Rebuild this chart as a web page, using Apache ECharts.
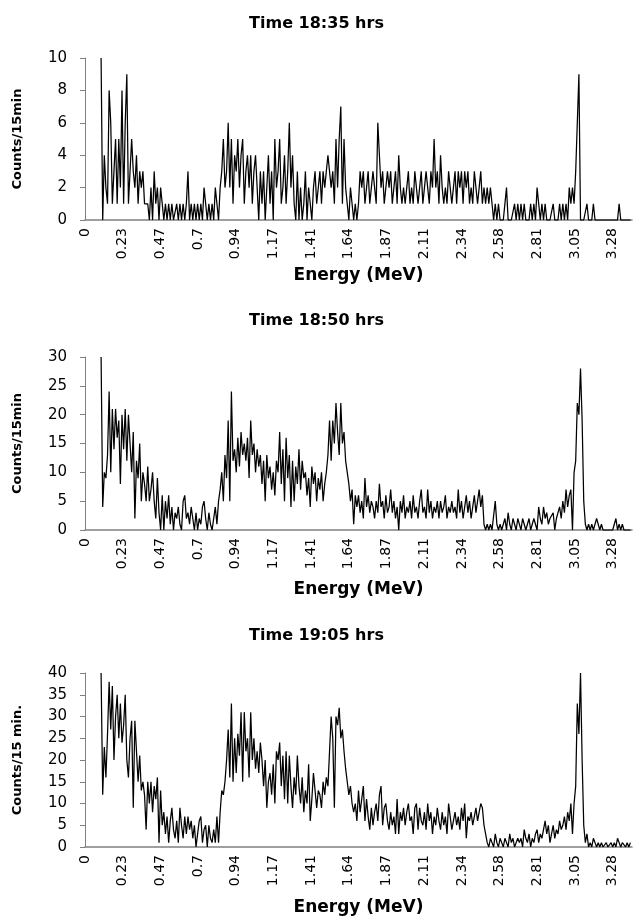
<!DOCTYPE html>
<html>
<head>
<meta charset="utf-8">
<script src="https://cdn.jsdelivr.net/npm/echarts@6/dist/echarts.min.js"></script>
<style>html,body{margin:0;padding:0;background:#fff}#c{width:633px;height:921px}</style>
</head>
<body>
<div id="c"></div>
<script>
// Energy grid of the channels (MeV): first channel and channel width
const E0 = 0.10;
const dE = 0.01;
const tickLabels = ['0','0.23','0.47','0.7','0.94','1.17','1.41','1.64','1.87','2.11','2.34','2.58','2.81','3.05','3.28'];
const tickStep = 3.28 / 14;
const titles = ['Time 18:35 hrs','Time 18:50 hrs','Time 19:05 hrs'];
const yNames = ['Counts/15min','Counts/15min','Counts/15 min.'];
const yMax = [10, 30, 40];
const yStep = [2, 5, 5];

const counts1835 = [
 10,0,4,2,1,8,6,1,3,5, 1,5,2,8,1,6,9,1,3,5, 3,2,4,1,3,2,3,1,1,1, 0,2,0,3,1,2,0,2,1,0,
 1,0,1,0,1,0,0,1,0,1, 0,1,0,1,3,0,1,0,1,0, 1,0,1,0,2,1,0,1,0,1, 0,2,1,0,2,3,5,2,3,6,
 2,5,1,4,3,5,2,4,5,1, 3,4,2,4,1,3,4,2,0,3, 1,3,0,2,4,1,3,0,5,2, 3,5,1,2,4,1,3,6,2,4,
 1,0,3,0,2,0,1,3,0,2, 1,0,2,3,1,2,3,1,3,2, 3,4,4,2,3,1,5,2,5,7, 1,5,2,1,0,2,1,0,1,0,
 1,3,2,3,1,2,3,1,2,3, 2,1,6,4,2,3,1,2,3,2, 3,1,2,3,1,4,2,1,2,1, 2,3,1,2,1,3,2,1,2,3,
 1,2,3,2,1,3,2,5,2,3, 1,4,2,1,2,1,3,2,1,2, 3,1,3,2,3,1,3,2,3,1, 2,1,3,3,1,2,3,1,2,1,
 2,1,2,1,0,1,0,1,0,0, 0,0,2,0,0,0,0,1,0,1, 0,1,0,1,0,0,0,1,0,1, 0,2,1,0,1,0,1,0,0,0,
 0,1,0,0,0,1,0,1,0,1, 0,2,1,2,1,3,3,9,0,0, 0,0,1,0,0,0,1,0,0,0, 0,0,0,0,0,0,0,0,0,0,
 0,0,1,0,0,0,0,0,0,0
];
const counts1850 = [
 30,4,10,9,13,24,10,21,14,21, 16,19,8,20,14,21,12,20,15,10, 17,2,12,9,15,5,10,8,5,11, 5,7,10,5,2,9,3,0,6,0,
 5,2,6,1,4,0,3,2,4,1, 0,5,6,2,3,1,4,2,0,3, 0,2,1,4,5,2,0,3,1,0, 0,4,1,5,7,10,5,13,9,19,
 5,24,12,14,10,16,11,17,13,15, 12,16,9,19,13,15,10,14,11,13, 8,12,5,13,9,11,7,10,6,12, 10,17,8,14,5,16,9,13,4,12,
 5,11,8,14,7,12,9,10,6,9, 4,11,8,10,5,9,7,10,5,8, 10,13,19,12,19,15,22,17,13,22, 15,17,12,10,8,5,7,1,6,4,
 6,3,5,2,9,4,6,3,5,4, 2,5,3,8,4,5,2,6,3,4, 7,3,5,2,4,0,5,3,6,2, 4,3,5,2,6,3,4,2,5,7,
 3,4,2,7,3,5,2,4,3,5, 2,5,3,4,6,2,4,3,5,3, 4,2,7,3,5,2,4,6,3,5, 2,4,6,3,5,7,4,6,1,0,
 1,0,1,0,0,5,1,0,1,0, 1,2,0,3,1,0,2,1,0,2, 1,0,2,1,0,1,2,0,1,2, 1,0,4,2,1,4,2,3,1,2,
 2,3,0,2,3,4,2,5,3,7, 4,6,7,0,10,12,22,20,28,19, 5,1,0,1,0,1,0,0,2,1, 0,1,0,0,0,0,0,0,0,1,
 2,0,1,0,1,0,0,0,0,0
];
const counts1905 = [
 40,12,23,16,26,38,27,37,20,30, 35,25,33,24,28,35,20,16,25,29, 9,29,22,15,21,13,15,12,4,15, 10,15,8,14,11,16,1,13,5,8,
 3,7,1,6,9,4,2,6,1,9, 5,2,7,3,7,4,6,2,5,0, 3,6,7,1,4,5,0,5,2,1, 4,1,7,1,8,13,12,15,20,27,
 16,33,15,25,17,26,21,31,15,31, 22,25,16,31,20,25,18,22,17,24, 20,14,20,9,15,17,12,19,10,22, 20,24,14,21,11,22,10,21,14,9,
 16,12,21,14,10,16,8,13,10,19, 6,11,17,13,9,13,12,9,15,12, 16,14,22,30,25,9,30,28,32,25, 27,22,18,15,12,14,10,8,10,6,
 13,8,11,14,6,11,7,4,9,5, 8,10,6,12,14,5,9,10,6,4, 8,5,7,3,11,3,8,6,9,5, 8,10,6,7,3,9,10,4,9,6,
 5,8,4,10,6,8,3,7,5,9, 6,4,8,5,7,3,10,7,4,6, 8,5,7,4,9,6,10,2,7,6, 8,5,7,9,6,8,10,9,5,3,
 1,0,2,1,0,3,1,0,2,1, 0,2,1,0,3,1,2,0,1,2, 1,2,0,4,2,1,3,0,2,1, 3,4,1,3,2,2,6,3,5,1,
 3,5,2,4,3,6,4,5,7,4, 8,6,10,3,10,14,33,26,40,20, 5,1,3,0,1,0,2,1,0,1, 0,1,0,0,1,0,0,1,0,1,
 0,2,1,0,1,1,0,1,0,1
];
const panels = [counts1835, counts1850, counts1905];

const gridTops = [58, 357, 673];
const gridHeights = [162, 173, 174];
const titleTops = [11, 308, 623];
const xNameGaps = [47, 51, 52];

const chart = echarts.init(document.getElementById('c'), null, {renderer: 'canvas'});
const font = 'DejaVu Sans';
const grids = [], xAxes = [], yAxes = [], series = [], titleList = [];
panels.forEach((vals, k) => {
  grids.push({left: 85, right: 1, top: gridTops[k], height: gridHeights[k], containLabel: false});
  titleList.push({text: titles[k], left: 'center', top: titleTops[k],
    textStyle: {fontFamily: font, fontWeight: 'bold', fontSize: 16, color: '#000'}});
  xAxes.push({
    type: 'value', gridIndex: k, min: 0, max: 3.40, interval: tickStep,
    name: 'Energy (MeV)', nameLocation: 'middle', nameGap: xNameGaps[k],
    nameTextStyle: {fontFamily: font, fontWeight: 'bold', fontSize: 17, color: '#000'},
    axisLine: {show: true, lineStyle: {color: '#808080', width: 1.5}},
    axisTick: {show: false}, splitLine: {show: false},
    axisLabel: {rotate: 90, margin: 8, fontFamily: font, fontSize: 14, color: '#000', showMaxLabel: false,
      formatter: v => { const i = Math.round(v / tickStep); return Math.abs(v - i * tickStep) < 1e-6 && tickLabels[i] !== undefined ? tickLabels[i] : ''; }}
  });
  yAxes.push({
    type: 'value', gridIndex: k, min: 0, max: yMax[k], interval: yStep[k],
    name: yNames[k], nameLocation: 'middle', nameGap: 61,
    nameTextStyle: {fontFamily: font, fontWeight: 'bold', fontSize: 13, color: '#000'},
    axisLine: {show: true, lineStyle: {color: '#808080', width: 1}},
    axisTick: {show: true, length: 5, lineStyle: {color: '#808080'}},
    splitLine: {show: false},
    axisLabel: {margin: 18, fontFamily: font, fontSize: 15, color: '#000'}
  });
  series.push({
    type: 'line', xAxisIndex: k, yAxisIndex: k, showSymbol: false, symbol: 'none',
    lineStyle: {color: '#000', width: 1.25}, animation: false,
    data: vals.map((v, i) => [+(E0 + i * dE).toFixed(3), v])
  });
});

chart.setOption({
  animation: false,
  backgroundColor: '#fff',
  title: titleList,
  grid: grids, xAxis: xAxes, yAxis: yAxes, series: series
});
</script>
</body>
</html>
